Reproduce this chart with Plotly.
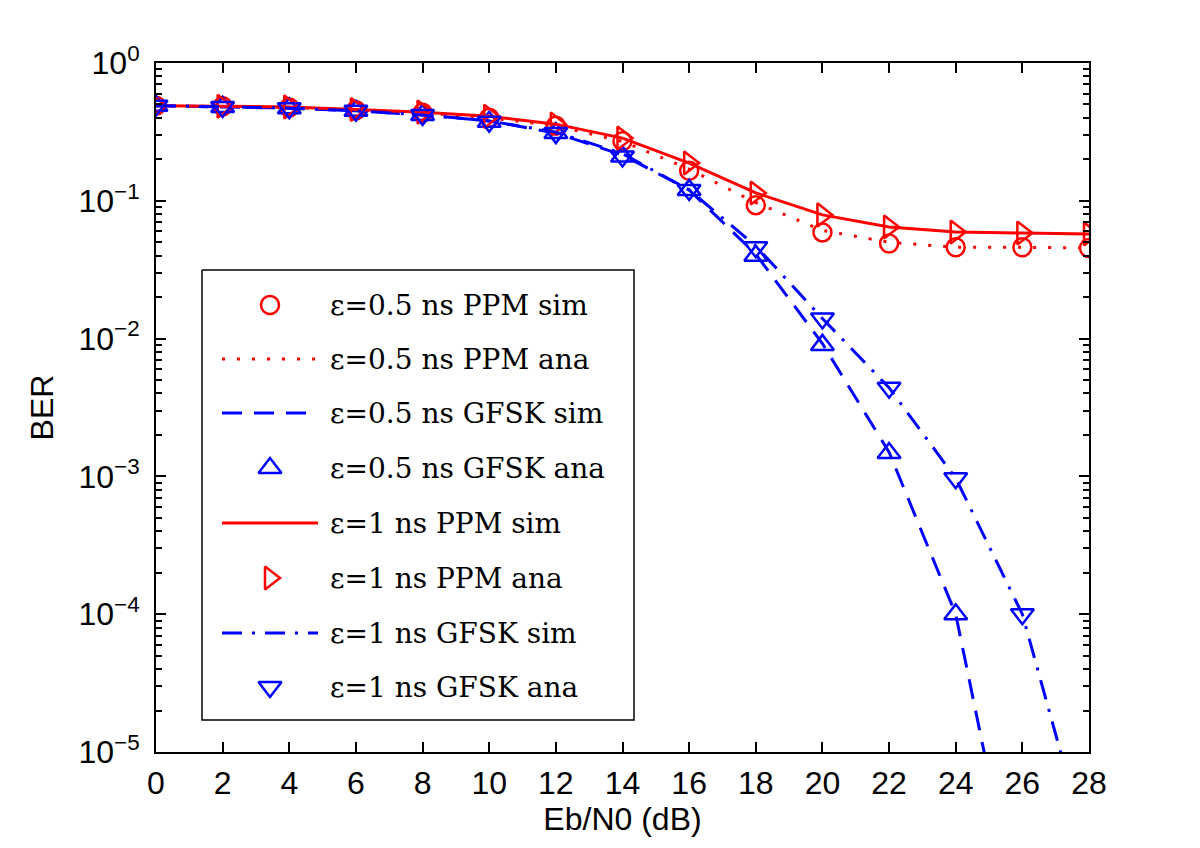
import plotly.graph_objects as go

# ---------------- data ----------------
snr_db = [0, 2, 4, 6, 8, 10, 12, 14, 16, 18, 20, 22, 24, 26, 28]

ppm05_sim = [0.49, 0.485, 0.475, 0.455, 0.435, 0.40, 0.35, 0.27, 0.165, 0.093, 0.059, 0.049, 0.046, 0.046, 0.0455]
ppm05_ana = [0.49, 0.485, 0.475, 0.455, 0.435, 0.40, 0.35, 0.27, 0.17, 0.097, 0.061, 0.050, 0.046, 0.046, 0.0455]
gfsk05_sim = [0.49, 0.48, 0.47, 0.45, 0.42, 0.38, 0.31, 0.215, 0.12, 0.041, 0.0092, 0.0015, 1.0e-4, 4.5e-7, None]
gfsk05_ana = [0.49, 0.48, 0.47, 0.45, 0.42, 0.375, 0.31, 0.21, 0.12, 0.040, 0.0090, 0.00148, 1.0e-4, None, None]
ppm1_sim = [0.49, 0.485, 0.48, 0.46, 0.44, 0.41, 0.36, 0.285, 0.188, 0.114, 0.079, 0.0645, 0.0594, 0.0584, 0.0574]
ppm1_ana = [0.49, 0.485, 0.48, 0.46, 0.44, 0.41, 0.36, 0.285, 0.188, 0.114, 0.079, 0.0645, 0.0594, 0.0584, 0.0574]
gfsk1_sim = [0.49, 0.48, 0.47, 0.45, 0.42, 0.38, 0.315, 0.22, 0.12, 0.047, 0.014, 0.0044, 0.00097, 1.0e-4, 1.8e-6]
gfsk1_ana = [0.49, 0.48, 0.47, 0.45, 0.42, 0.375, 0.31, 0.21, 0.12, 0.046, 0.014, 0.0044, 0.00097, 1.0e-4, None]

legend_labels = [
    "ε=0.5 ns PPM sim",
    "ε=0.5 ns PPM ana",
    "ε=0.5 ns GFSK sim",
    "ε=0.5 ns GFSK ana",
    "ε=1 ns PPM sim",
    "ε=1 ns PPM ana",
    "ε=1 ns GFSK sim",
    "ε=1 ns GFSK ana",
]

x_ticks = list(range(0, 29, 2))
y_tickvals = [1e-5, 1e-4, 1e-3, 1e-2, 1e-1, 1]
y_ticktext = ["10<sup>−5</sup>", "10<sup>−4</sup>", "10<sup>−3</sup>",
              "10<sup>−2</sup>", "10<sup>−1</sup>", "10<sup>0</sup>"]
y_minor_vals = [m * d for d in [1e-5, 1e-4, 1e-3, 1e-2, 1e-1] for m in range(2, 10)]

# ---------------- styles ----------------
RED = "#ff0000"
BLUE = "#0000ff"
DASH = "20px,12px"
DOT = "3px,12px"
DASHDOT = "20px,10px,3px,10px"
LW = 3
MS = 20
MLW = 2.5

styles = [
    dict(y=ppm05_sim, mode="markers", color=RED, symbol="circle-open", size=18),
    dict(y=ppm05_ana, mode="lines", color=RED, dash=DOT),
    dict(y=gfsk05_sim, mode="lines", color=BLUE, dash=DASH),
    dict(y=gfsk05_ana, mode="markers", color=BLUE, symbol="triangle-up-open", size=MS),
    dict(y=ppm1_sim, mode="lines", color=RED, dash="solid"),
    dict(y=ppm1_ana, mode="markers", color=RED, symbol="triangle-right-open", size=MS),
    dict(y=gfsk1_sim, mode="lines", color=BLUE, dash=DASHDOT),
    dict(y=gfsk1_ana, mode="markers", color=BLUE, symbol="triangle-down-open", size=MS),
]

fig = go.Figure()

for lab, st in zip(legend_labels, styles):
    if st["mode"] == "lines":
        fig.add_trace(go.Scatter(
            x=snr_db, y=st["y"], mode="lines", name=lab, showlegend=False,
            line=dict(color=st["color"], width=LW, dash=st["dash"]),
            connectgaps=False))
    else:
        fig.add_trace(go.Scatter(
            x=snr_db, y=st["y"], mode="markers", name=lab, showlegend=False,
            marker=dict(symbol=st["symbol"], size=st["size"], color=st["color"],
                        line=dict(color=st["color"], width=MLW))))

# ---------------- hand-drawn legend (pixel coordinates on overlay axes) ----------------
box_l, box_r, box_t, box_b = 202, 634, 270, 720
row_y = [305, 359, 413, 468, 523, 578, 633, 687]
sample_x0, sample_x1, marker_x, text_x = 222, 318, 270, 328

fig.add_trace(go.Scatter(
    x=[box_l, box_r, box_r, box_l, box_l], y=[box_t, box_t, box_b, box_b, box_t],
    mode="lines", fill="toself", fillcolor="white",
    line=dict(color="black", width=1.5), xaxis="x2", yaxis="y2",
    showlegend=False, hoverinfo="skip"))

for ry, st in zip(row_y, styles):
    if st["mode"] == "lines":
        fig.add_trace(go.Scatter(
            x=[sample_x0, sample_x1], y=[ry, ry], mode="lines",
            line=dict(color=st["color"], width=LW, dash=st["dash"]),
            xaxis="x2", yaxis="y2", showlegend=False, hoverinfo="skip"))
    else:
        fig.add_trace(go.Scatter(
            x=[marker_x], y=[ry], mode="markers",
            marker=dict(symbol=st["symbol"], size=st["size"], color=st["color"],
                        line=dict(color=st["color"], width=MLW)),
            xaxis="x2", yaxis="y2", showlegend=False, hoverinfo="skip"))

for ry, lab in zip(row_y, legend_labels):
    fig.add_annotation(x=text_x, y=ry, xref="x2", yref="y2", text=lab,
                       showarrow=False, xanchor="left", yanchor="middle",
                       font=dict(family="DejaVu Serif", size=28, color="black"))

axis_font = dict(family="Liberation Sans", size=32, color="black")

fig.update_layout(
    width=1200, height=848,
    margin=dict(l=148, r=119, t=55, b=104),
    paper_bgcolor="white", plot_bgcolor="white",
    showlegend=False,
    font=axis_font,
    xaxis=dict(
        range=[0, 28], tickvals=x_ticks, ticks="inside", ticklen=10,
        tickwidth=2, tickcolor="black", showline=True, linecolor="black",
        linewidth=2, mirror="allticks", showgrid=False, zeroline=False,
        tickfont=axis_font, ticklabelstandoff=2,
        title=dict(text="Eb/N0 (dB)", font=dict(family="Liberation Sans", size=32), standoff=0),
    ),
    yaxis=dict(
        type="log", range=[-5, 0], tickvals=y_tickvals, ticktext=y_ticktext,
        ticks="inside", ticklen=10, tickwidth=2, tickcolor="black",
        showline=True, linecolor="black", linewidth=2, mirror="allticks",
        showgrid=False, zeroline=False, tickfont=axis_font, ticklabelstandoff=8,
        minor=dict(tickvals=y_minor_vals, ticks="inside", ticklen=6,
                   tickcolor="black", tickwidth=1.5, showgrid=False),
        title=dict(text="BER", font=dict(family="Liberation Sans", size=32), standoff=15),
    ),
    xaxis2=dict(overlaying="x", anchor="y2", range=[156, 1089], visible=False,
                fixedrange=True),
    yaxis2=dict(overlaying="y", anchor="x2", range=[752, 63], visible=False,
                fixedrange=True),
)

fig.write_html("out.html")
